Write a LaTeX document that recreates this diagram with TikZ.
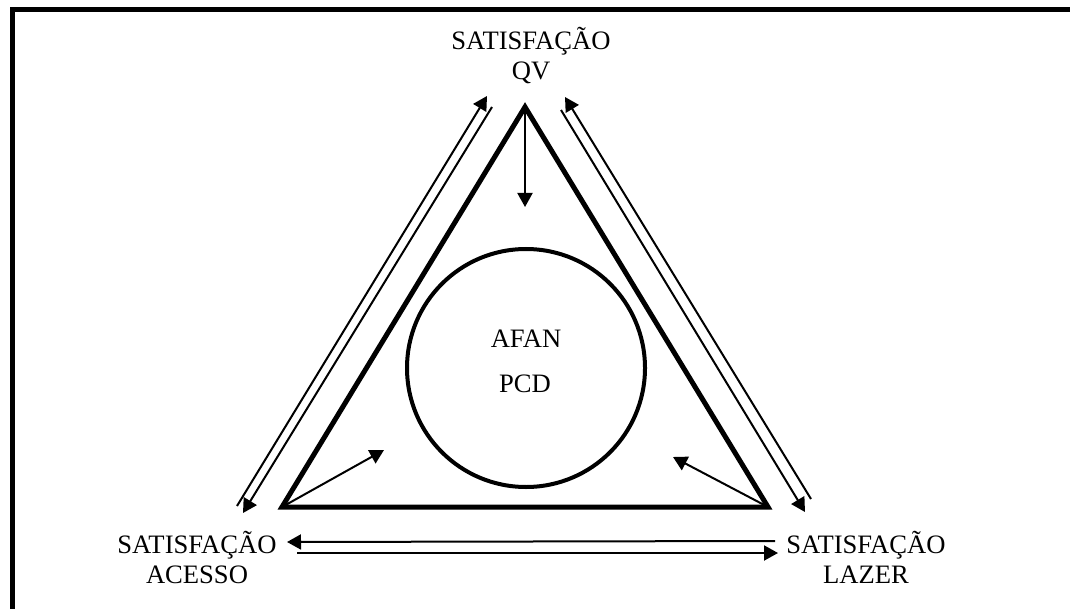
\documentclass[tikz,border=0pt]{standalone}
\usepackage{fontspec}
\setmainfont{Liberation Serif}
\usetikzlibrary{arrows.meta}

\begin{document}
\begin{tikzpicture}[x=0.5pt, y=-0.5pt,
  caption/.style={font=\fontsize{13.3pt}{15pt}\selectfont, align=center, inner sep=0pt},
  link/.style={-{Triangle[length=7pt,width=7.5pt]}, line width=1pt},
  tri/.style={line width=2.5pt, line join=miter},
  ring/.style={draw, circle, line width=2pt, minimum size=119pt, inner sep=0pt}]
  \useasboundingbox (0,0) rectangle (1070,609);
  % frame, cut at the page edge
  \draw[line width=2.5pt, line join=miter] (12.5,700) |- (1200,9.5);
  % labels
  \node[caption, anchor=base] (qv) at (531,80) {SATISFAÇÃO\\QV};
  \node[caption, anchor=base] (acesso) at (197,583) {SATISFAÇÃO\\ACESSO};
  \node[caption, anchor=base] (lazer) at (866,583) {SATISFAÇÃO\\LAZER};
  % triangle and circle
  \coordinate (top) at (525,107);
  \coordinate (left) at (282,507);
  \coordinate (right) at (768,507);
  \draw[tri] (top) -- (left) -- (right) -- cycle;
  \node[ring] (pcd) at (526,368) {};
  \node[caption, anchor=base] (afantext) at (526,347) {AFAN};
  \node[caption, anchor=base] (pcdtext) at (525,392) {PCD};
  % arrows into the triangle
  \coordinate (topin) at (525,207);
  \coordinate (leftin) at (384,450);
  \coordinate (rightin) at (673,457);
  \draw[link] (top) -- (topin);
  \draw[link] (left) -- (leftin);
  \draw[link] (right) -- (rightin);
  % double arrows between the satisfactions
  \coordinate (la1) at (237,506); \coordinate (la2) at (487,96);
  \coordinate (lb1) at (492,107); \coordinate (lb2) at (243,513);
  \coordinate (ra1) at (811,499); \coordinate (ra2) at (565,97);
  \coordinate (rb1) at (561,110); \coordinate (rb2) at (805,512);
  \coordinate (ba1) at (775,541); \coordinate (ba2) at (287,542);
  \coordinate (bb1) at (297,553); \coordinate (bb2) at (778,553);
  \foreach \s in {la,lb,ra,rb,ba,bb}
    \draw[link] (\s1) -- (\s2);
\end{tikzpicture}
\end{document}
